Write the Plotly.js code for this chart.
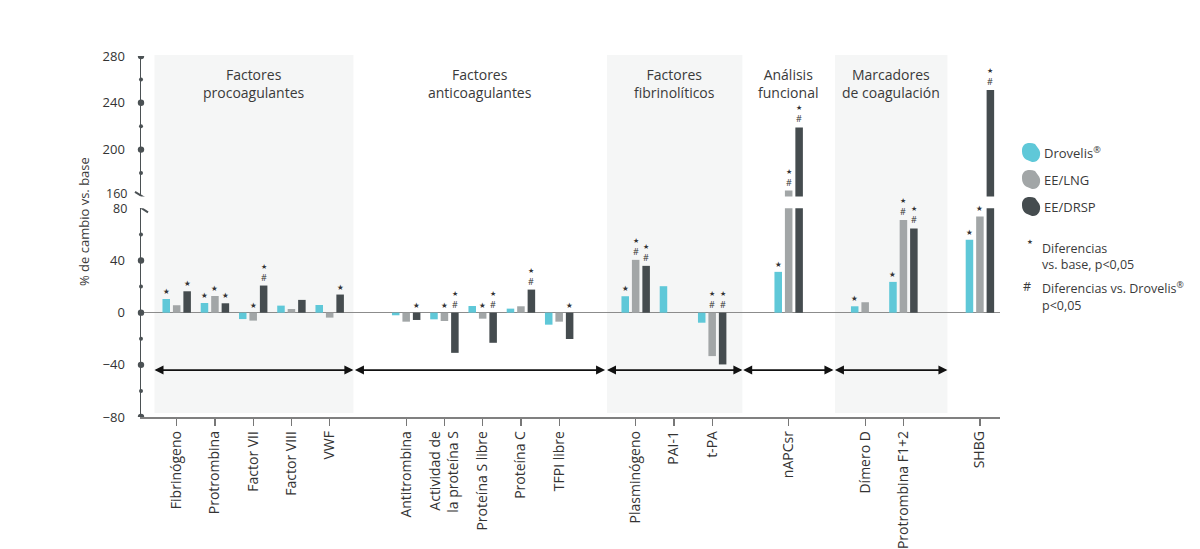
<!DOCTYPE html>
<html>
<head>
<meta charset="utf-8">
<script src="https://cdn.plot.ly/plotly-3.0.1.min.js"></script>
<style>html,body{margin:0;padding:0;background:#fff;}#chart{width:1200px;height:549px;}</style>
</head>
<body>
<div id="chart"></div>
<script>
// ---------- DATA ----------
const categories = ['Fibrinógeno','Protrombina','Factor VII','Factor VIII','VWF',
  'Antitrombina','Actividad de<br>la proteína S','Proteína S libre','Proteína C','TFPI libre',
  'Plasminógeno','PAI-1','t-PA','nAPCsr','Dímero D','Protrombina F1+2','SHBG'];
const groupOfCategory = [0,0,0,0,0, 1,1,1,1,1, 2,2,2, 3, 4,4, 5];
const groupTitles = ['Factores<br>procoagulantes','Factores<br>anticoagulantes','Factores<br>fibrinolíticos',
  'Análisis<br>funcional','Marcadores<br>de coagulación'];
const seriesNames = ['Drovelis<sup>®</sup>','EE/LNG','EE/DRSP'];
const drovelis = [10.5, 7.4, -4.9, 5.4, 5.9, -2.0, -5.1, 5.1, 3.1, -9.2, 12.6, 20.3, -7.7, 31.3, 4.9, 23.6, 55.9];
const eeLng    = [5.7, 12.8, -6.1, 2.8, -3.8, -6.9, -6.4, -4.6, 4.9, -6.9, 40.5, null, -33.3, 165, 8.0, 71.1, 73.8];
const eeDrsp   = [16.4, 7.2, 20.8, 9.8, 13.9, -5.6, -30.8, -23.1, 17.7, -20.2, 35.9, null, -39.7, 219, null, 64.6, 251];
// '*' = diferencias vs. base, '#' = diferencias vs. Drovelis
const sigDrovelis = ['*','*','','','', '','','','','', '*','','', '*', '*','*', '*'];
const sigLng      = ['','*','*','','', '','*','*','','', '*#','','*#', '*#', '','*#', '*'];
const sigDrsp     = ['*','*','*#','','*', '*','*#','*#','*#','*', '*#','','*#', '*#', '','*#', '*#'];
const lowerTicks = [-80,-40,0,40];
const upperTicks = [200,240,280];
const breakTicks = [80,160];
const noteLines = ['Diferencias<br>vs. base, p<0,05','Diferencias vs. Drovelis<sup>®</sup><br>p<0,05'];

// ---------- LAYOUT CONSTANTS ----------
const FONT = 'Open Sans, Lato, sans-serif';
const TXT = '#3a3a3a';
const colors = ['#5fc8d8','#a2a6a7','#454c4f'];
const shadeColor = '#f5f6f6';
const M = {l:141, r:200, t:56, b:132};
const W = 1200, H = 549;
const PW = W - M.l - M.r, PH = H - M.t - M.b;
const px2x = p => (p - M.l) / PW;
const px2y = p => (H - M.b - p) / PH;
const xRange = [-0.933, 21.525];
const bargap = 0.18, bargroupgap = 0.28;
const groupSpans = [[-0.58,4.62],[4.66,11.2],[11.25,14.79],[14.81,17.17],[17.21,20.15]];
const groupShaded = [true,false,true,false,true];
const arrowY = -44;

// x positions: one empty slot between groups
const xs = [];
let pos = 0;
categories.forEach((c,i)=>{
  if (i>0) pos += (groupOfCategory[i] !== groupOfCategory[i-1]) ? 2 : 1;
  xs.push(pos);
});

const seriesVals = [drovelis, eeLng, eeDrsp];
const seriesSig = [sigDrovelis, sigLng, sigDrsp];

const traces = [];
seriesVals.forEach((vals, s) => {
  ['y','y2'].forEach(ax => {
    traces.push({
      type:'bar', x: xs, y: vals, name: seriesNames[s], xaxis:'x', yaxis: ax,
      marker:{color: colors[s], line:{width:0}}, showlegend:false, hoverinfo:'skip'
    });
  });
});

const shapes = [];
const annotations = [];

// group shading
groupSpans.forEach((sp,g)=>{
  if (groupShaded[g]) shapes.push({type:'rect', xref:'x', yref:'paper', x0:sp[0], x1:sp[1],
    y0:px2y(413), y1:px2y(55), fillcolor:shadeColor, line:{width:0}, layer:'below'});
});
// group titles
groupSpans.forEach((sp,g)=>{
  annotations.push({xref:'x', yref:'paper', x:(sp[0]+sp[1])/2, y:px2y(63), yanchor:'top', xanchor:'center',
    text: groupTitles[g], showarrow:false, font:{family:FONT, size:14, color:TXT}, align:'center'});
});
// double arrows (line + two arrow heads)
groupSpans.forEach(sp=>{
  shapes.push({type:'line', xref:'x', yref:'y', x0:sp[0]+0.05, x1:sp[1]-0.05, y0:arrowY, y1:arrowY,
    line:{color:'#111', width:1.7}});
  shapes.push({type:'path', xref:'x', yref:'y', xsizemode:'pixel', ysizemode:'pixel', xanchor:sp[1], yanchor:arrowY,
    path:'M 0,0 L -9,4.5 L -9,-4.5 Z', fillcolor:'#111', line:{width:0}});
  shapes.push({type:'path', xref:'x', yref:'y', xsizemode:'pixel', ysizemode:'pixel', xanchor:sp[0], yanchor:arrowY,
    path:'M 0,0 L 9,4.5 L 9,-4.5 Z', fillcolor:'#111', line:{width:0}});
});

// significance marks
const slotW = (1 - bargap) / 3;
seriesVals.forEach((vals, s) => {
  vals.forEach((v, i) => {
    const sig = seriesSig[s][i];
    if (!sig || v === null) return;
    const xPos = xs[i] + (s - 1) * slotW;
    const base = Math.max(v, 0);
    const yref = base > 80 ? 'y2' : 'y';
    const hasHash = sig.indexOf('#') >= 0;
    if (hasHash) {
      annotations.push({xref:'x', yref, x:xPos, y:base, yanchor:'bottom', yshift:1, borderpad:0,
        text:'<span style="font-size:7px">★</span><br>#', showarrow:false,
        font:{family:FONT, size:9, color:'#333'}});
    } else {
      annotations.push({xref:'x', yref, x:xPos, y:base, yanchor:'bottom', yshift:2, borderpad:0,
        text:'★', showarrow:false, font:{family:'DejaVu Sans', size:7.5, color:'#333'}});
    }
  });
});

// axis dots
const axisColor = '#4b5154';
const dot = (val, yref, r) => ({type:'circle', xref:'paper', yref, xsizemode:'pixel', ysizemode:'pixel',
  xanchor:0, yanchor:val, x0:-r, x1:r, y0:-r, y1:r, fillcolor:axisColor, line:{width:0}});
[-80,-40,0,40].forEach(v=>shapes.push(dot(v,'y',3.2)));
[-60,-20,20,60].forEach(v=>shapes.push(dot(v,'y',2)));
[200,240,280].forEach(v=>shapes.push(dot(v,'y2',3.2)));
[180,220,260].forEach(v=>shapes.push(dot(v,'y2',2)));
// break slashes
shapes.push({type:'line', xref:'paper', yref:'y2', xsizemode:'pixel', ysizemode:'pixel', xanchor:0, yanchor:160,
  x0:-6, x1:7, y0:4.5, y1:-3.5, line:{color:axisColor, width:2}});
shapes.push({type:'line', xref:'paper', yref:'y', xsizemode:'pixel', ysizemode:'pixel', xanchor:0, yanchor:80,
  x0:-6, x1:7, y0:4.5, y1:-4, line:{color:axisColor, width:2}});
// labels at the axis break
annotations.push({xref:'paper', yref:'paper', x:px2x(128), y:px2y(193), xanchor:'right', yanchor:'middle',
  text:String(breakTicks[1]), showarrow:false, borderpad:0, font:{family:FONT, size:12.5, color:'#333'}});
annotations.push({xref:'paper', yref:'paper', x:px2x(128), y:px2y(209), xanchor:'right', yanchor:'middle',
  text:String(breakTicks[0]), showarrow:false, borderpad:0, font:{family:FONT, size:12.5, color:'#333'}});

// custom legend
const legY = [152.5, 179.5, 206.5];
const blob = 'M -9,1 Q -9,-4 -5,-7 L 1,-9.5 Q 6,-10 8.5,-5 Q 10,0 8,3 L 4,8.5 Q 1,10 -3,9.5 L -6,8.5 Q -9.5,6 -9,1 Z';
seriesNames.forEach((n,s)=>{
  shapes.push({type:'path', xref:'paper', yref:'paper', xsizemode:'pixel', ysizemode:'pixel',
    xanchor:px2x(1031), yanchor:px2y(legY[s]), path: blob, fillcolor: colors[s], line:{width:0}});
  annotations.push({xref:'paper', yref:'paper', x:px2x(1042), y:px2y(legY[s]), xanchor:'left', yanchor:'middle',
    text: n, showarrow:false, font:{family:FONT, size:13, color:TXT}});
});
// notes
annotations.push({xref:'paper', yref:'paper', x:px2x(1030), y:px2y(242), xanchor:'center', yanchor:'middle',
  text:'★', showarrow:false, font:{family:'DejaVu Sans', size:6.5, color:TXT}});
annotations.push({xref:'paper', yref:'paper', x:px2x(1040), y:px2y(238), xanchor:'left', yanchor:'top',
  text: noteLines[0], showarrow:false, align:'left', font:{family:FONT, size:12.5, color:TXT}});
annotations.push({xref:'paper', yref:'paper', x:px2x(1027), y:px2y(286.5), xanchor:'center', yanchor:'middle',
  text:'#', showarrow:false, font:{family:FONT, size:12.5, color:TXT}});
annotations.push({xref:'paper', yref:'paper', x:px2x(1040), y:px2y(277), xanchor:'left', yanchor:'top',
  text: noteLines[1], showarrow:false, align:'left', font:{family:FONT, size:12.5, color:TXT}});
// y title
annotations.push({xref:'paper', yref:'paper', x:px2x(84), y:px2y(222), xanchor:'center', yanchor:'middle',
  textangle:-90, text:'% de cambio vs. base', showarrow:false, font:{family:FONT, size:13, color:TXT}});

const layout = {
  width: W, height: H, margin: M, paper_bgcolor:'#fff', plot_bgcolor:'rgba(0,0,0,0)',
  barmode:'group', bargap, bargroupgap, showlegend:false, hovermode:false,
  font:{family:FONT, color:TXT},
  xaxis:{range:xRange, tickmode:'array', tickvals: xs, ticktext: categories, tickangle:-90,
    ticks:'outside', ticklen:7, tickwidth:1.3, tickcolor:'#777', showline:true, linecolor:'#808080', linewidth:1.5,
    showgrid:false, zeroline:false, anchor:'y', tickfont:{family:FONT, size:14, color:'#333'}, fixedrange:true},
  yaxis:{domain:[0,0.578], range:[-80,80], tickmode:'array', tickvals: lowerTicks, ticks:'', showline:true,
    linecolor:axisColor, linewidth:1.5, showgrid:false, zeroline:true, zerolinecolor:'#8c8c8c', zerolinewidth:1.5,
    ticklabelstandoff:12, tickfont:{family:FONT, size:13, color:'#333'}, anchor:'x', fixedrange:true},
  yaxis2:{domain:[0.611,1], range:[160,280], tickmode:'array', tickvals: upperTicks, ticks:'', showline:true,
    linecolor:axisColor, linewidth:1.5, showgrid:false, zeroline:false,
    ticklabelstandoff:12, tickfont:{family:FONT, size:13, color:'#333'}, anchor:'x', fixedrange:true},
  shapes, annotations
};
Plotly.newPlot('chart', traces, layout, {displayModeBar:false, staticPlot:true});
</script>
</body>
</html>
